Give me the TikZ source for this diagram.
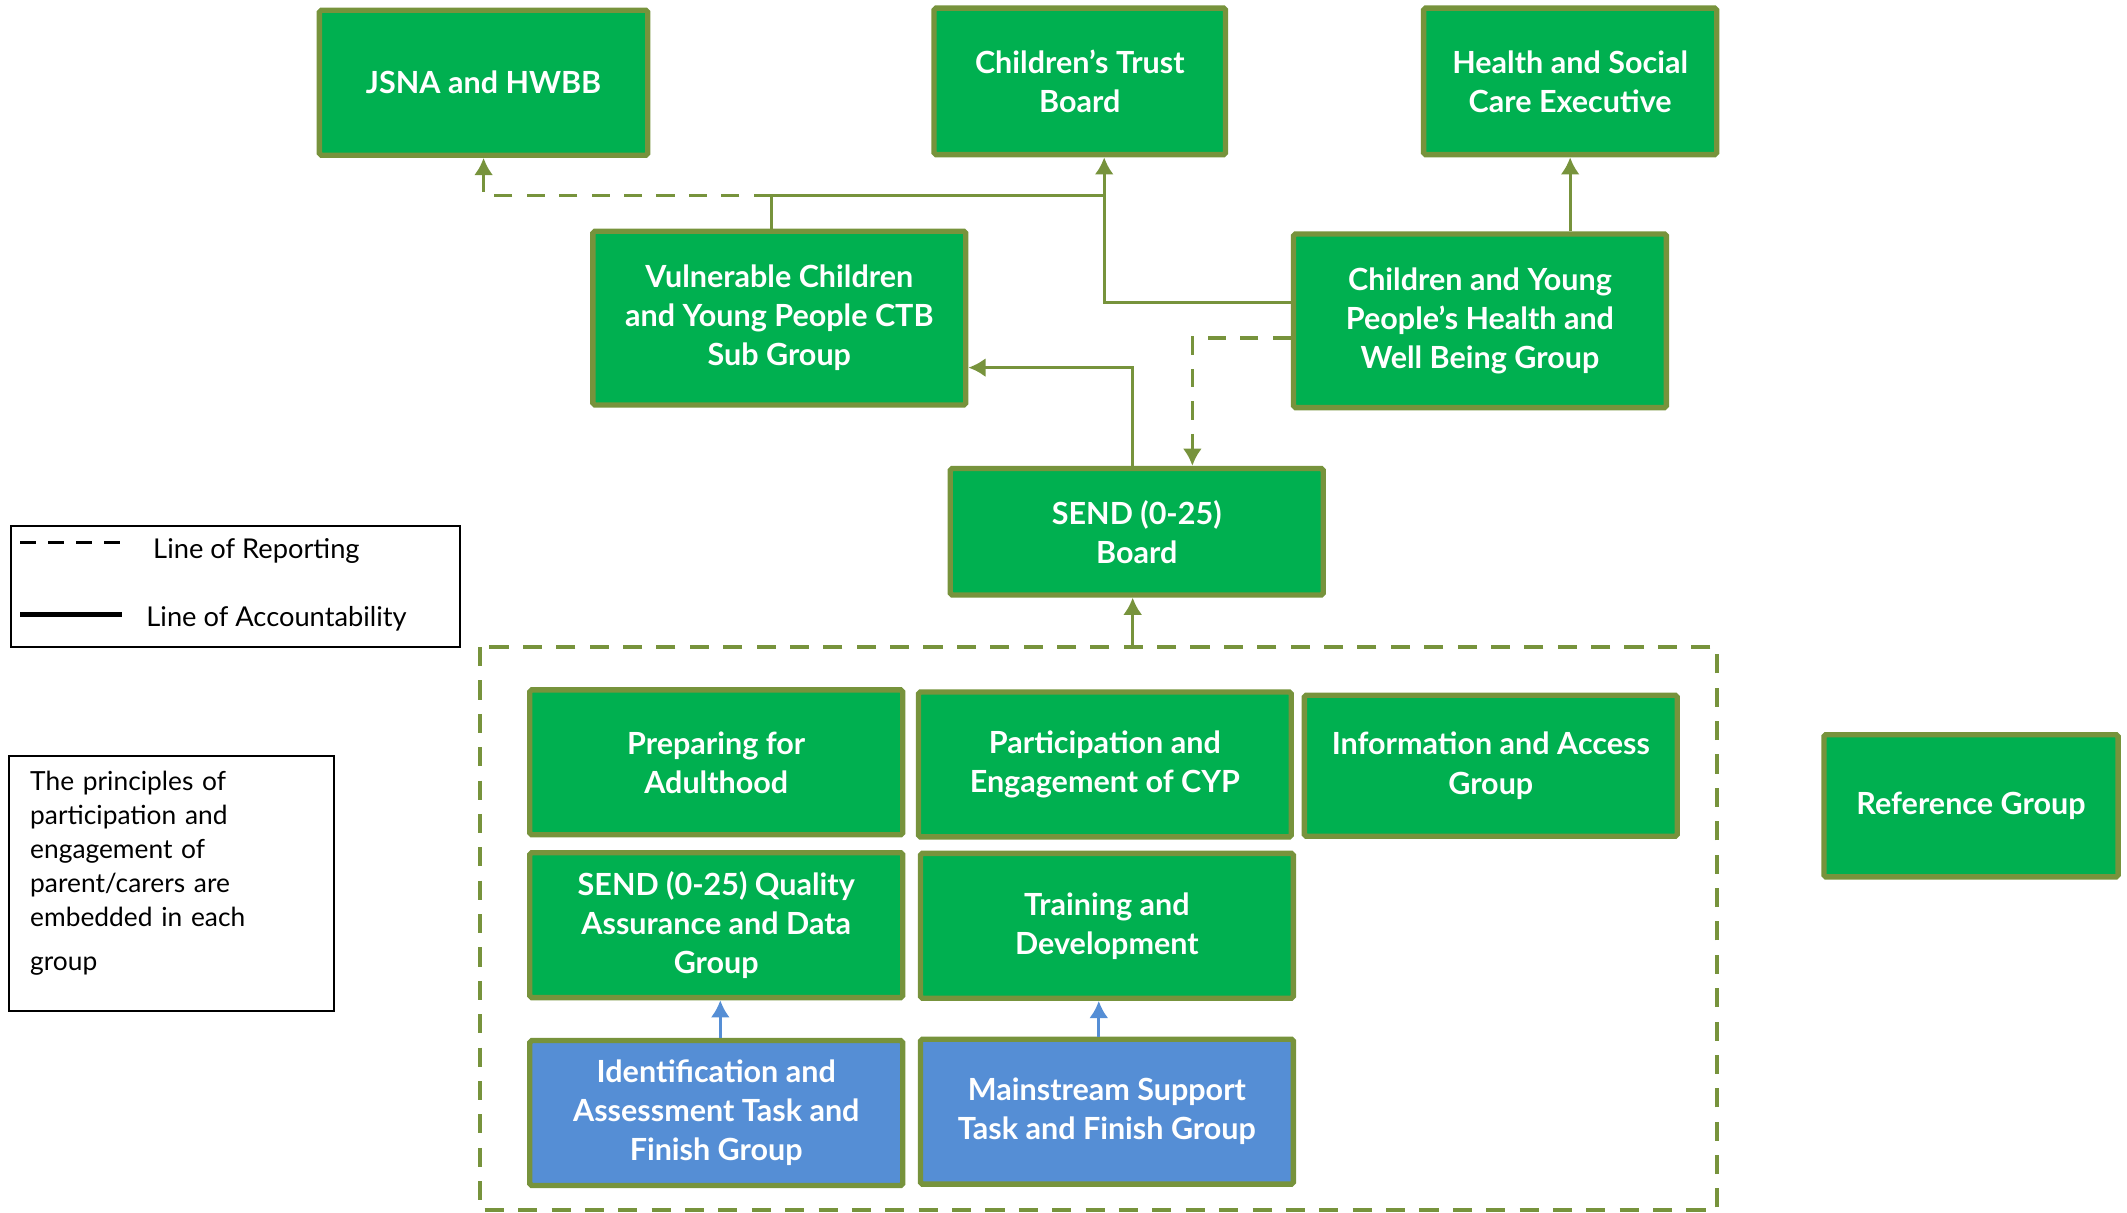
\documentclass[tikz,border=0pt]{standalone}
\usepackage{fontspec}
\setmainfont{Lato}
\usepackage{xcolor}
\usepackage{tikz}
\usetikzlibrary{arrows.meta,positioning}
\tikzset{>={Latex[length=9pt,width=10pt]}}

\definecolor{grpgreen}{HTML}{00B050}
\definecolor{olivebd}{HTML}{77933C}
\definecolor{tfblue}{HTML}{558ED5}

\begin{document}
\begin{tikzpicture}[x=0.025cm, y=-0.025cm,
                    grp/.style={draw=olivebd, line width=2.8pt, rounded corners=1pt, fill=grpgreen, text=white,
                                font=\fontsize{16}{20.5}\selectfont\bfseries, align=center,
                                inner sep=0pt, minimum width=6.87cm, minimum height=2.67cm},
                    tf/.style={grp, fill=tfblue},
                    acc/.style={olivebd, line width=1.6pt},
                    rep/.style={olivebd, line width=1.9pt, dash pattern=on 9.5pt off 7.5pt},
                    blu/.style={tfblue, line width=1.6pt},
                    wg/.style={olivebd, line width=2pt, dash pattern=on 10pt off 7.5pt},
                    keybox/.style={draw=black, line width=1pt, inner sep=0pt},
                    keytext/.style={font=\fontsize{14.3}{18}\selectfont, anchor=west},
                   ]

\useasboundingbox (0,0) rectangle (1568,894);

% top row
\node[grp, minimum width=6.05cm] (jsna) at (356.5,61) {JSNA and HWBB};
\node[grp, minimum width=5.37cm, minimum height=2.7cm] (ctb) at (796,60) {Children’s Trust\\Board};
\node[grp, minimum width=5.4cm, minimum height=2.7cm] (hsce) at (1157.5,60) {Health and Social\\Care Executive};

% sub groups
\node[grp, minimum height=3.2cm] (vcyp) at (574.5,234.5) {Vulnerable Children\\and Young People CTB\\Sub Group};
\node[grp, minimum height=3.2cm] (cyphwb) at (1091,236.5) {Children and Young\\People’s Health and\\Well Being Group};
\node[grp, minimum height=2.33cm] (sendb) at (838,392) {SEND (0-25)\\Board};

% working groups
\node[grp] (pfa) at (528,562) {Preparing for\\Adulthood};
\node[grp] (pecyp) at (814.5,563.5) {Participation and\\Engagement of CYP};
\node[grp, minimum height=2.6cm] (iag) at (1099,564.5) {Information and Access\\Group};
\node[grp] (qa) at (528,682) {SEND (0-25) Quality\\Assurance and Data\\Group};
\node[grp] (td) at (816,682.5) {Training and\\Development};
\node[tf] (ia) at (528,820.5) {Identification and\\Assessment Task and\\Finish Group};
\node[tf] (ms) at (816,819.5) {Mainstream Support\\Task and Finish Group};

\node[grp, minimum width=5.42cm, minimum height=2.62cm] (ref) at (1453,594) {Reference Group};

% working group frame
\draw[wg] (354,477) rectangle (1266,892);

% key
\node[keybox, minimum width=8.275cm, minimum height=2.225cm] (key) at (173.5,432.5) {};
\coordinate (keyr) at (15,400);
\coordinate (keya) at (15,453);
\draw[black, line width=1.6pt, dash pattern=on 8.4pt off 6.3pt] (keyr) -- ++(75,0);
\draw[black, line width=2.1pt] (keya) -- ++(75,0);
\node[keytext] (keyrt) at (108,406) {Line of Reporting};
\node[keytext] (keyat) at (103,456) {Line of Accountability};

\node[keybox, minimum width=5.975cm, minimum height=4.7cm] (note) at (126.5,651) {};
\node[anchor=base west, inner sep=0pt, text width=5.3cm, align=left,
      font=\fontsize{13.8}{17.8}\selectfont] (notetext) at (22,583)
      {The principles of\\participation and\\engagement of\\parent/carers are\\embedded in each\\[5pt]group};

% connectors
\coordinate (vj) at (569,144);
\coordinate (cj) at (814,144);
\coordinate (wgtop) at (835,477);

\draw[acc] (vcyp.north -| vj) -- (vj) -- (cj);
\draw[rep,->] (vj) -| (jsna.south);
\draw[acc,->] (cyphwb.west |- 0,223) -| (ctb.south -| cj);
\draw[acc,->] (cyphwb.north -| hsce.south) -- (hsce.south);
\draw[rep,->] (cyphwb.west |- 0,249) -| (sendb.north -| 879,0);
\draw[acc,->] (sendb.north -| 835,0) |- (vcyp.east |- 0,271);
\draw[acc,->] (wgtop) -- (sendb.south -| wgtop);

\draw[blu,->] (ia.north -| 531,0) -- (qa.south -| 531,0);
\draw[blu,->] (ms.north -| 810,0) -- (td.south -| 810,0);

\end{tikzpicture}
\end{document}
